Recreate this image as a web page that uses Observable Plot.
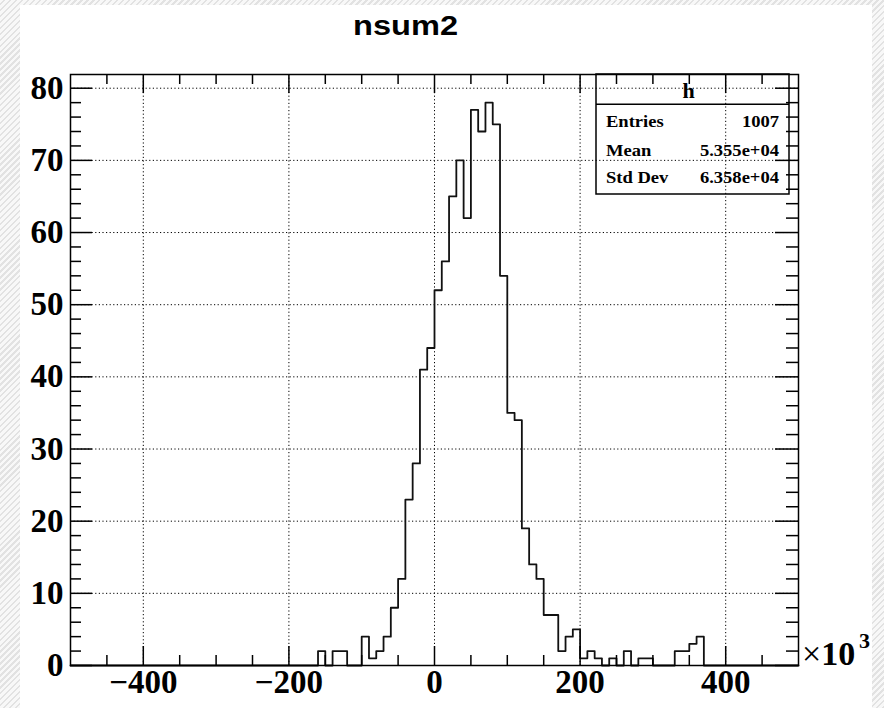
<!DOCTYPE html>
<html><head><meta charset="utf-8">
<script src="https://cdn.jsdelivr.net/npm/d3@7"></script>
<script src="https://cdn.jsdelivr.net/npm/@observablehq/plot@0.6"></script>
<style>
html,body{margin:0;padding:0;}
body{width:884px;height:708px;overflow:hidden;position:relative;
  background:repeating-linear-gradient(135deg,#f8f8f8 0px,#f8f8f8 2.5px,#e2e2e2 2.5px,#e2e2e2 4.2px);}
#canvas{position:absolute;left:20px;top:5px;width:852px;height:710px;background:#fff;}
#chart{position:absolute;left:0;top:0;}
</style></head><body>
<div id="canvas"></div><div id="chart"></div>
<script>
// ---- data (x in units of 10^3) ----
const title = "nsum2";
const binLow = -500;
const binHigh = 500;
const binWidth = 10;
const counts = [
  0,0,0,0,0,0,0,0,0,0,   // -500 .. -410
  0,0,0,0,0,0,0,0,0,0,   // -400 .. -310
  0,0,0,0,0,0,0,0,0,0,   // -300 .. -210
  0,0,0,0,2,0,2,2,0,0,   // -200 .. -110
  4,1,2,4,8,12,23,28,41,44, // -100 .. -10
  52,56,65,70,62,77,74,78,75,54, // 0 .. 90
  35,34,19,14,12,7,7,2,4,5,      // 100 .. 190
  1,2,1,0,1,0,2,0,1,1,           // 200 .. 290
  0,0,0,2,2,3,4,0,0,0,           // 300 .. 390
  0,0,0,0,0,0,0,0,0,0            // 400 .. 490
];
const xMajor = [-400, -200, 0, 200, 400];
const xMinor = [-450, -350, -300, -250, -150, -100, -50, 50, 100, 150, 250, 300, 350, 450];
const yMajor = [0, 10, 20, 30, 40, 50, 60, 70, 80];
const yMinor = [2,4,6,8,12,14,16,18,22,24,26,28,32,34,36,38,42,44,46,48,52,54,56,58,62,64,66,68,72,74,76,78];
const yMax = 81.9;
const statsName = "h";
const statsLabels = ["Entries", "Mean", "Std Dev"];
const statsValues = ["1007", "5.355e+04", "6.358e+04"];
const exponentBase = "10";
const exponentPower = "3";

// ---- build ----
const points = counts.map((c, i) => ({x: binLow + i * binWidth, y: c}));
points.push({x: binHigh, y: counts[counts.length - 1]});

const W = 884, H = 708, mL = 70, mR = 86, mT = 74, mB = 43;
const fw = W - mL - mR, fh = H - mT - mB;
const fmt = d => d < 0 ? "\u2212" + Math.abs(d) : String(d);
const dots = "1.2,2.4";

const plot = Plot.plot({
  width: W, height: H,
  marginLeft: mL, marginRight: mR, marginTop: mT, marginBottom: mB,
  x: {domain: [binLow, binHigh], axis: null},
  y: {domain: [0, yMax], axis: null},
  style: {background: "transparent", fontFamily: "'Liberation Serif', 'Times New Roman', serif", fontWeight: "bold", color: "black", overflow: "visible"},
  marks: [
    Plot.ruleX(xMajor, {x: d => d, stroke: "black", strokeWidth: 1, strokeDasharray: dots}),
    Plot.ruleY(yMajor.filter(d => d > 0), {y: d => d, stroke: "black", strokeWidth: 1, strokeDasharray: dots}),
    Plot.line(points, {x: "x", y: "y", curve: "step-after", stroke: "#111", strokeWidth: 1.8}),
    // bottom ticks
    Plot.ruleX(xMajor, {x: d => d, insetTop: fh - 19, stroke: "black", strokeWidth: 1.5}),
    Plot.ruleX(xMinor, {x: d => d, insetTop: fh - 10, stroke: "black", strokeWidth: 1.5}),
    // top ticks
    Plot.ruleX(xMajor, {x: d => d, insetBottom: fh - 19, stroke: "black", strokeWidth: 1.5}),
    Plot.ruleX(xMinor, {x: d => d, insetBottom: fh - 10, stroke: "black", strokeWidth: 1.5}),
    // left ticks
    Plot.ruleY(yMajor, {y: d => d, insetRight: fw - 22, stroke: "black", strokeWidth: 1.5}),
    Plot.ruleY(yMinor, {y: d => d, insetRight: fw - 11, stroke: "black", strokeWidth: 1.5}),
    // right ticks
    Plot.ruleY(yMajor, {y: d => d, insetLeft: fw - 23, stroke: "black", strokeWidth: 1.5}),
    Plot.ruleY(yMinor, {y: d => d, insetLeft: fw - 12, stroke: "black", strokeWidth: 1.5}),
    Plot.frame({stroke: "black", strokeWidth: 1.5}),
    // tick labels
    Plot.text(xMajor, {x: d => d, frameAnchor: "bottom", dy: 27, text: fmt, fontSize: 33, fontWeight: "bold", fill: "black"}),
    Plot.text(yMajor, {y: d => d, frameAnchor: "left", dx: -7, textAnchor: "end", text: fmt, fontSize: 33, fontWeight: "bold", fill: "black"})
  ]
});
document.getElementById("chart").appendChild(plot);

const svg = d3.select(plot);
// title
svg.append("text")
  .attr("x", 405.5).attr("y", 35)
  .attr("text-anchor", "middle")
  .attr("font-family", "'Liberation Sans', Arial, sans-serif")
  .attr("font-weight", "bold").attr("font-size", 28)
  .attr("textLength", 105).attr("lengthAdjust", "spacingAndGlyphs")
  .attr("fill", "black")
  .text(title);

// exponent label
const ex = svg.append("text").attr("x", 802).attr("y", 665).attr("text-anchor", "start")
  .attr("font-family", "'Liberation Serif', serif").attr("fill", "black");
ex.append("tspan").attr("font-size", 34).attr("font-weight", "normal").text("\u00d7");
ex.append("tspan").attr("font-size", 34).attr("font-weight", "bold").text(exponentBase);
svg.append("text").attr("x", 859).attr("y", 648).attr("text-anchor", "start")
  .attr("font-family", "'Liberation Serif', serif").attr("font-weight", "bold")
  .attr("font-size", 22).attr("fill", "black").text(exponentPower);

// stats box
const sb = {x: 596, y: 74, w: 193, h: 120, head: 30.3};
const g = svg.append("g").attr("font-family", "'Liberation Serif', serif").attr("font-weight", "bold").attr("fill", "black");
g.append("rect").attr("x", sb.x).attr("y", sb.y).attr("width", sb.w).attr("height", sb.h)
  .attr("fill", "none").attr("stroke", "black").attr("stroke-width", 1.5);
g.append("line").attr("x1", sb.x).attr("x2", sb.x + sb.w).attr("y1", sb.y + sb.head).attr("y2", sb.y + sb.head)
  .attr("stroke", "black").attr("stroke-width", 1.5);
g.append("text").attr("x", sb.x + sb.w / 2 - 4).attr("y", sb.y + 24).attr("text-anchor", "middle")
  .attr("font-size", 22).text(statsName);
const rowY = [127, 156, 183];
statsLabels.forEach((lab, i) => {
  g.append("text").attr("transform", `translate(${sb.x + 10},${rowY[i]}) scale(1.16,1)`)
    .attr("text-anchor", "start").attr("font-size", 16).text(lab);
  g.append("text").attr("transform", `translate(${sb.x + sb.w - 10},${rowY[i]}) scale(1.16,1)`)
    .attr("text-anchor", "end").attr("font-size", 16).text(statsValues[i]);
});
</script>
</body></html>
